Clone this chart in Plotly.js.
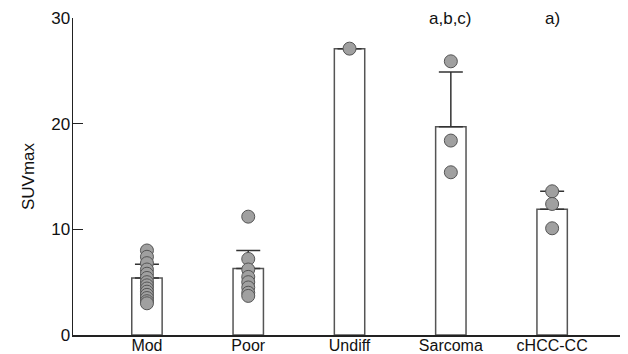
<!DOCTYPE html>
<html>
<head>
<meta charset="utf-8">
<script src="https://cdn.plot.ly/plotly-3.0.1.min.js"></script>
<style>html,body{margin:0;padding:0;background:#fff;}#chart{width:628px;height:354px;}</style>
</head>
<body>
<div id="chart"></div>
<script>
var categories = ["Mod", "Poor", "Undiff", "Sarcoma", "cHCC-CC"];
var barMeans = [5.4, 6.3, 27.1, 19.7, 11.9];
var errPlus = [1.3, 1.7, 0, 5.2, 1.7];
var ptsMod = [8.0, 7.4, 6.8, 6.2, 5.8, 5.4, 5.0, 4.7, 4.4, 4.1, 3.8, 3.5, 3.2, 3.0];
var ptsPoor = [11.2, 7.2, 6.2, 5.5, 5.0, 4.5, 4.0, 3.7];
var ptsUndiff = [27.1];
var ptsSarcoma = [25.9, 18.4, 15.4];
var ptsCHCC = [13.6, 12.4, 10.1];
var annotTexts = ["", "", "", "a,b,c)", "a)"];
var yTicks = [0, 10, 20, 30];

var groups = [ptsMod, ptsPoor, ptsUndiff, ptsSarcoma, ptsCHCC];
var idx = categories.map(function(c, i){ return i; });

var px = [], py = [];
groups.forEach(function(g, i){ g.forEach(function(v){ px.push(i); py.push(v); }); });

var FONT = 'Liberation Sans, Arial, Helvetica, sans-serif';

var traces = [
  {
    type: 'bar', x: idx, y: barMeans, width: 0.3,
    marker: {color: '#ffffff', line: {color: '#555', width: 1.5}},
    error_y: {type: 'data', symmetric: false, array: errPlus, arrayminus: idx.map(function(){return 0;}),
              color: '#333', thickness: 1.5, width: 12},
    hoverinfo: 'skip'
  },
  {
    type: 'scatter', mode: 'markers', x: px, y: py,
    marker: {size: 13, color: '#a0a0a0', line: {color: '#555', width: 1}},
    hoverinfo: 'skip'
  }
];

var annotations = [];
annotTexts.forEach(function(t, i){
  if (t) annotations.push({x: i, y: 1, xref: 'x', yref: 'paper', yanchor: 'middle', yshift: 0,
    text: t, showarrow: false, font: {family: FONT, size: 17, color: '#111'}});
});

var layout = {
  width: 628, height: 354,
  margin: {l: 73, r: 8, t: 18, b: 19},
  paper_bgcolor: '#fff', plot_bgcolor: '#fff',
  showlegend: false,
  font: {family: FONT, size: 17, color: '#111'},
  bargap: 0,
  xaxis: {
    range: [-0.73, 4.67], tickvals: idx, ticktext: categories,
    showline: true, linecolor: '#222', linewidth: 1.5, ticks: '', showgrid: false, zeroline: false,
    tickfont: {size: 16}, ticklabelstandoff: -5, fixedrange: true
  },
  yaxis: {
    range: [0, 30], tickvals: yTicks,
    showline: true, linecolor: '#222', linewidth: 1.5, ticks: 'inside', ticklen: 10, tickwidth: 1.5, tickcolor: '#222',
    showgrid: false, zeroline: false, tickfont: {size: 17}, ticklabelstandoff: -2,
    title: {text: 'SUVmax', font: {size: 17}, standoff: 12}
  },
  annotations: annotations
};

Plotly.newPlot('chart', traces, layout, {displayModeBar: false, staticPlot: true});
</script>
</body>
</html>
